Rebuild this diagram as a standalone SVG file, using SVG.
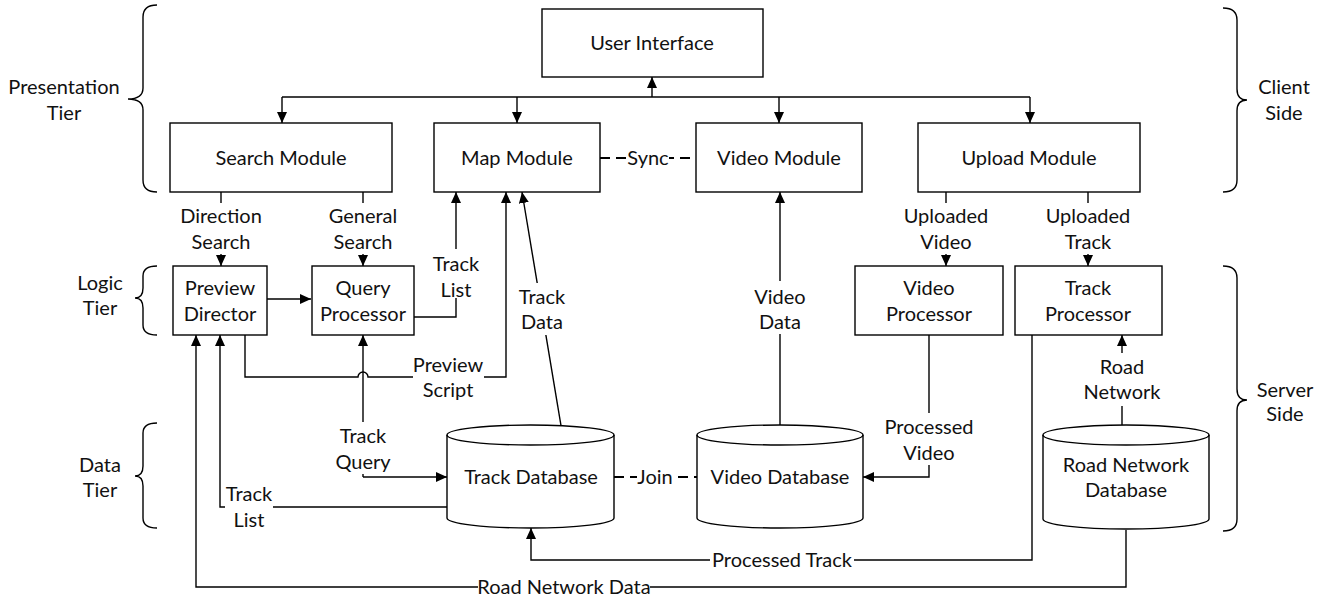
<svg xmlns="http://www.w3.org/2000/svg" width="1326" height="602" viewBox="0 0 1326 602">
<style>
  text { font-family: Lato, "Liberation Sans", sans-serif; font-size: 20px; fill: #111; text-anchor: middle; }
  .box { fill: #fff; stroke: #000; stroke-width: 1.4; }
  .ln { fill: none; stroke: #000; stroke-width: 1.4; }
  .arr { fill: none; stroke: #000; stroke-width: 1.4; marker-end: url(#ah); }
  .dash { fill: none; stroke: #000; stroke-width: 2; stroke-dasharray: 10 6; }
  .bg { fill: #fff; stroke: none; }
  .brace { fill: none; stroke: #000; stroke-width: 1.4; }
</style>
<defs>
  <marker id="ah" markerUnits="userSpaceOnUse" markerWidth="11" markerHeight="10" refX="11" refY="5" orient="auto">
    <path d="M0,0 L11,5 L0,10 Z" fill="#000"/>
  </marker>
</defs>
<rect width="1326" height="602" fill="#fff"/>

<!-- braces and tier labels -->
<g id="braces">
  <path class="brace" d="M157,5 Q143,5 143,17 L143,88 Q143,99 128,99 Q143,99 143,110 L143,180 Q143,192 157,192"/>
  <path class="brace" d="M157,266 Q143,266 143,276 L143,288 Q143,298 135,298 Q143,298 143,308 L143,325 Q143,335 157,335"/>
  <path class="brace" d="M157,423 Q143,423 143,433 L143,466 Q143,476 135,476 Q143,476 143,486 L143,518 Q143,528 157,528"/>
  <path class="brace" d="M1223,8 Q1237,8 1237,20 L1237,89 Q1237,100 1247,100 Q1237,100 1237,111 L1237,180 Q1237,192 1223,192"/>
  <path class="brace" d="M1223,266 Q1237,266 1237,278 L1237,389 Q1237,400 1247,400 Q1237,400 1237,411 L1237,519 Q1237,531 1223,531"/>
</g>
<g id="tier-labels">
  <text x="64" y="94">Presentation</text><text x="64" y="120">Tier</text>
  <text x="100" y="290">Logic</text><text x="100" y="315">Tier</text>
  <text x="100" y="472">Data</text><text x="100" y="497">Tier</text>
  <text x="1284" y="94">Client</text><text x="1284" y="120">Side</text>
  <text x="1285" y="397">Server</text><text x="1285" y="421">Side</text>
</g>

<!-- connectors -->
<g id="connectors">
  <!-- UI bus -->
  <path class="arr" d="M652,97 L652,77"/>
  <path class="ln" d="M282,97 L1030,97"/>
  <path class="arr" d="M282,97 L282,123"/>
  <path class="arr" d="M517,97 L517,123"/>
  <path class="arr" d="M779,97 L779,123"/>
  <path class="arr" d="M1030,97 L1030,123"/>
  <!-- Sync -->
  <path class="dash" d="M600,158 L696,158"/>
  <rect class="bg" x="628" y="146" width="41" height="25"/>
  <text x="648" y="165">Sync</text>
  <!-- Direction / General search -->
  <path class="arr" d="M221,192 L221,266"/>
  <rect class="bg" x="180" y="203" width="82" height="51"/>
  <text x="221" y="223">Direction</text><text x="221" y="249">Search</text>
  <path class="arr" d="M363,192 L363,266"/>
  <rect class="bg" x="327" y="203" width="72" height="51"/>
  <text x="363" y="223">General</text><text x="363" y="249">Search</text>
  <!-- Uploaded -->
  <path class="arr" d="M946,192 L946,266"/>
  <rect class="bg" x="903" y="203" width="86" height="51"/>
  <text x="946" y="223">Uploaded</text><text x="946" y="249">Video</text>
  <path class="arr" d="M1088,192 L1088,266"/>
  <rect class="bg" x="1045" y="203" width="86" height="51"/>
  <text x="1088" y="223">Uploaded</text><text x="1088" y="249">Track</text>
  <!-- Preview Director -> Query Processor -->
  <path class="arr" d="M267,299 L311,299"/>
  <!-- Track List (upper) -->
  <path class="arr" d="M414,317 L456,317 L456,192"/>
  <rect class="bg" x="430" y="249" width="52" height="49"/>
  <text x="456" y="271">Track</text><text x="456" y="297">List</text>
  <!-- Preview Script -->
  <path class="arr" d="M245,335 L245,377 L358,377 A5,5 0 0,1 368,377 L506,377 L506,192"/>
  <rect class="bg" x="413" y="352" width="71" height="50"/>
  <text x="448" y="372">Preview</text><text x="448" y="397">Script</text>
  <!-- Track Data -->
  <path class="arr" d="M561,425.7 L522,192"/>
  <rect class="bg" x="518" y="283" width="49" height="52"/>
  <text x="542" y="304">Track</text><text x="542" y="329">Data</text>
  <!-- Video Data -->
  <path class="arr" d="M780,425 L780,192"/>
  <rect class="bg" x="754" y="281" width="52" height="53"/>
  <text x="780" y="304">Video</text><text x="780" y="329">Data</text>
  <!-- Track Query -->
  <path class="arr" d="M363,477 L363,335"/>
  <path class="arr" d="M363,477 L447,477"/>
  <rect class="bg" x="337" y="422" width="53" height="52"/>
  <text x="363" y="443">Track</text><text x="363" y="469">Query</text>
  <!-- Track List (lower) -->
  <path class="arr" d="M447,507 L220,507 L220,335"/>
  <rect class="bg" x="225" y="481" width="48" height="51"/>
  <text x="249" y="501">Track</text><text x="249" y="527">List</text>
  <!-- Join -->
  <path class="dash" d="M614,477 L697,477"/>
  <rect class="bg" x="637" y="465" width="36" height="25"/>
  <text x="655" y="484">Join</text>
  <!-- Processed Video -->
  <path class="arr" d="M929,335 L929,477 L863,477"/>
  <rect class="bg" x="885" y="413" width="89" height="52"/>
  <text x="929" y="434">Processed</text><text x="929" y="460">Video</text>
  <!-- Road Network -->
  <path class="arr" d="M1122,425.2 L1122,335"/>
  <rect class="bg" x="1080" y="353" width="84" height="53"/>
  <text x="1122" y="374">Road</text><text x="1122" y="399">Network</text>
  <!-- Processed Track -->
  <path class="arr" d="M1032,335 L1032,560 L531,560 L531,528"/>
  <rect class="bg" x="710" y="548" width="144" height="25"/>
  <text x="782" y="567">Processed Track</text>
  <!-- Road Network Data -->
  <path class="arr" d="M1126,530 L1126,587 L196,587 L196,335"/>
  <rect class="bg" x="478" y="575" width="172" height="26"/>
  <text x="564" y="594">Road Network Data</text>
</g>

<!-- nodes -->
<g id="user-interface"><rect class="box" x="542" y="9" width="221" height="68"/><text x="652" y="50">User Interface</text></g>
<g id="search-module"><rect class="box" x="170" y="123" width="222" height="69"/><text x="281" y="165">Search Module</text></g>
<g id="map-module"><rect class="box" x="434" y="123" width="166" height="69"/><text x="517" y="165">Map Module</text></g>
<g id="video-module"><rect class="box" x="696" y="123" width="166" height="69"/><text x="779" y="165">Video Module</text></g>
<g id="upload-module"><rect class="box" x="918" y="123" width="222" height="69"/><text x="1029" y="165">Upload Module</text></g>
<g id="preview-director"><rect class="box" x="173" y="266" width="94" height="69"/><text x="220" y="295">Preview</text><text x="220" y="321">Director</text></g>
<g id="query-processor"><rect class="box" x="312" y="266" width="102" height="69"/><text x="363" y="295">Query</text><text x="363" y="321">Processor</text></g>
<g id="video-processor"><rect class="box" x="855" y="266" width="148" height="69"/><text x="929" y="295">Video</text><text x="929" y="321">Processor</text></g>
<g id="track-processor"><rect class="box" x="1015" y="266" width="147" height="69"/><text x="1088" y="295">Track</text><text x="1088" y="321">Processor</text></g>
<g id="track-database">
  <path class="box" d="M447,435 A83.5,10 0 0,1 614,435 L614,518 A83.5,10 0 0,1 447,518 Z"/>
  <path class="ln" d="M447,435 A83.5,10 0 0,0 614,435"/>
  <text x="531" y="484">Track Database</text>
</g>
<g id="video-database">
  <path class="box" d="M697,435 A83,10 0 0,1 863,435 L863,518 A83,10 0 0,1 697,518 Z"/>
  <path class="ln" d="M697,435 A83,10 0 0,0 863,435"/>
  <text x="780" y="484">Video Database</text>
</g>
<g id="road-network-database">
  <path class="box" d="M1043,435 A83,10 0 0,1 1209,435 L1209,519 A83,10 0 0,1 1043,519 Z"/>
  <path class="ln" d="M1043,435 A83,10 0 0,0 1209,435"/>
  <text x="1126" y="472">Road Network</text><text x="1126" y="497">Database</text>
</g>
</svg>
